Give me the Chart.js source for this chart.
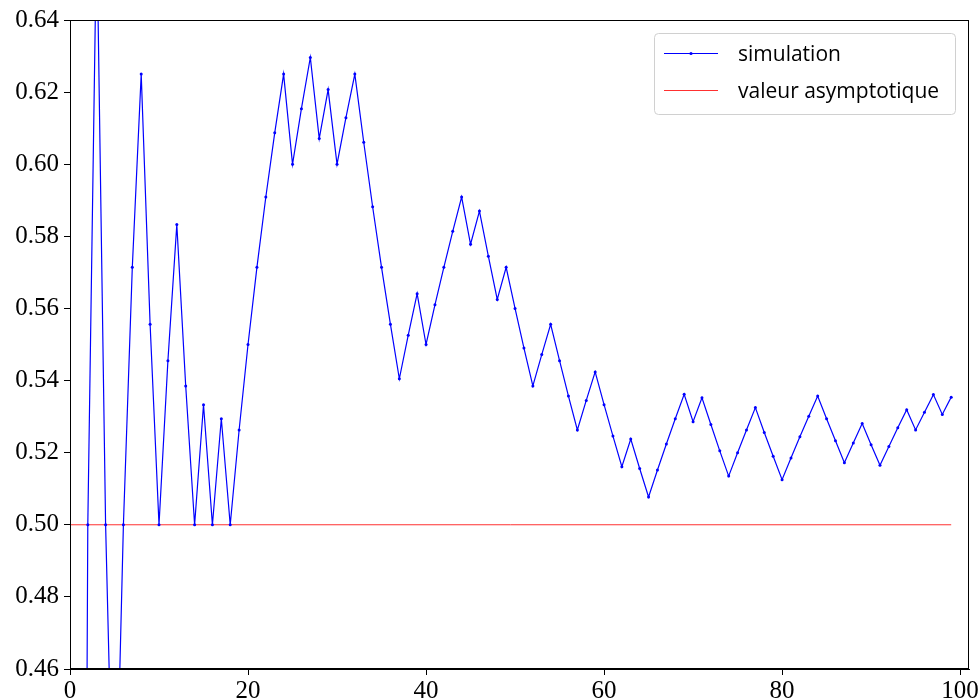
<!DOCTYPE html>
<html>
<head>
<meta charset="utf-8">
<script src="https://cdn.jsdelivr.net/npm/chart.js@4"></script>
<style>
  body { margin: 0; background: #fff; }
  #wrap { width: 980px; height: 700px; }
</style>
</head>
<body>
<div id="wrap"><canvas id="c" width="980" height="700"></canvas></div>
<script>
// nombre de lancers
const steps = [];
for (let n = 1; n <= 99; n++) steps.push(n);

const freq = [
  0, 0.5, 0.6667, 0.5, 0.4, 0.5, 0.5714, 0.625, 0.5556, 0.5,
  0.5455, 0.5833, 0.5385, 0.5, 0.5333, 0.5, 0.5294, 0.5, 0.5263, 0.55,
  0.5714, 0.5909, 0.6087, 0.625, 0.6, 0.6154, 0.6296, 0.6071, 0.6207, 0.6,
  0.6129, 0.625, 0.6061, 0.5882, 0.5714, 0.5556, 0.5405, 0.5526, 0.5641, 0.55,
  0.561, 0.5714, 0.5814, 0.5909, 0.5778, 0.587, 0.5745, 0.5625, 0.5714, 0.56,
  0.549, 0.5385, 0.5472, 0.5556, 0.5455, 0.5357, 0.5263, 0.5345, 0.5424, 0.5333,
  0.5246, 0.5161, 0.5238, 0.5156, 0.5077, 0.5152, 0.5224, 0.5294, 0.5362, 0.5286,
  0.5352, 0.5278, 0.5205, 0.5135, 0.52, 0.5263, 0.5325, 0.5256, 0.519, 0.5125,
  0.5185, 0.5244, 0.5301, 0.5357, 0.5294, 0.5233, 0.5172, 0.5227, 0.5281, 0.5222,
  0.5165, 0.5217, 0.5269, 0.5319, 0.5263, 0.5312, 0.5361, 0.5306, 0.5354
];

// valeur asymptotique
const asymX = [0, 99];
const asymY = [0.5, 0.5];

const xTicks = [0, 20, 40, 60, 80, 100];
const yTicks = [0.46, 0.48, 0.50, 0.52, 0.54, 0.56, 0.58, 0.60, 0.62, 0.64];

const simPoints = steps.map((n, i) => ({ x: n, y: freq[i] }));
const asymPoints = asymX.map((x, i) => ({ x: x, y: asymY[i] }));

const serif = '"Liberation Serif", "DejaVu Serif", serif';
const sans = '"Open Sans", "DejaVu Sans", sans-serif';

// cadre complet (haut et droite)
const framePlugin = {
  id: 'frame',
  afterDatasetsDraw(chart) {
    const { ctx, chartArea: a } = chart;
    ctx.save();
    ctx.strokeStyle = '#000';
    ctx.lineWidth = 1;
    ctx.strokeRect(a.left + 0.5, a.top + 0.5, a.right - a.left - 1, a.bottom - a.top - 1);
    ctx.restore();
  }
};

// légende façon matplotlib
const legendPlugin = {
  id: 'mplLegend',
  afterDraw(chart) {
    const ctx = chart.ctx;
    const x0 = 654, y0 = 33, w = 301, h = 81;
    ctx.save();
    ctx.fillStyle = 'rgba(255,255,255,0.8)';
    ctx.strokeStyle = '#d0d0d0';
    ctx.lineWidth = 1;
    ctx.beginPath();
    ctx.roundRect(x0 + 0.5, y0 + 0.5, w, h, 4);
    ctx.fill();
    ctx.stroke();
    const rows = [53, 90];
    chart.data.datasets.forEach((ds, i) => {
      const y = rows[i];
      ctx.strokeStyle = ds.borderColor;
      ctx.lineWidth = 1;
      ctx.beginPath();
      ctx.moveTo(664, y + 0.5);
      ctx.lineTo(718, y + 0.5);
      ctx.stroke();
      if (ds.pointRadius > 0) {
        ctx.fillStyle = ds.borderColor;
        ctx.beginPath();
        ctx.arc(691, y + 0.5, 1.6, 0, Math.PI * 2);
        ctx.fill();
      }
      ctx.fillStyle = '#000';
      ctx.font = '21px ' + sans;
      ctx.textBaseline = 'middle';
      ctx.fillText(ds.label, 738, y + 2);
    });
    ctx.restore();
  }
};

new Chart(document.getElementById('c'), {
  type: 'line',
  data: {
    datasets: [
      {
        label: 'simulation',
        data: simPoints,
        borderColor: '#0000ff',
        backgroundColor: '#0000ff',
        borderWidth: 1.2,
        pointRadius: 1.5,
        pointBorderWidth: 0,
        pointBackgroundColor: '#0000ff',
        tension: 0
      },
      {
        label: 'valeur asymptotique',
        data: asymPoints,
        borderColor: '#ff3030',
        borderWidth: 1,
        pointRadius: 0,
        tension: 0
      }
    ]
  },
  options: {
    responsive: false,
    animation: false,
    layout: { padding: { top: 20, right: 11, left: 0, bottom: 0 } },
    plugins: {
      legend: { display: false },
      tooltip: { enabled: false }
    },
    scales: {
      x: {
        type: 'linear',
        min: 0,
        max: 101,
        afterBuildTicks: (s) => { s.ticks = xTicks.map(v => ({ value: v })); },
        afterFit: (s) => { s.height = 31; },
        border: { display: true, color: '#000', width: 1 },
        grid: { drawOnChartArea: false, drawTicks: true, tickLength: 6, color: '#000' },
        ticks: {
          color: '#000',
          padding: 1,
          maxRotation: 0,
          font: { family: serif, size: 25 },
          callback: (v) => String(v)
        }
      },
      y: {
        min: 0.46,
        max: 0.64,
        afterBuildTicks: (s) => { s.ticks = yTicks.map(v => ({ value: v })); },
        afterFit: (s) => { s.width = 70; },
        border: { display: true, color: '#000', width: 1 },
        grid: { drawOnChartArea: false, drawTicks: true, tickLength: 6, color: '#000' },
        ticks: {
          color: '#000',
          padding: 5,
          font: { family: serif, size: 25 },
          callback: (v) => Number(v).toFixed(2)
        }
      }
    }
  },
  plugins: [framePlugin, legendPlugin]
});
</script>
</body>
</html>
